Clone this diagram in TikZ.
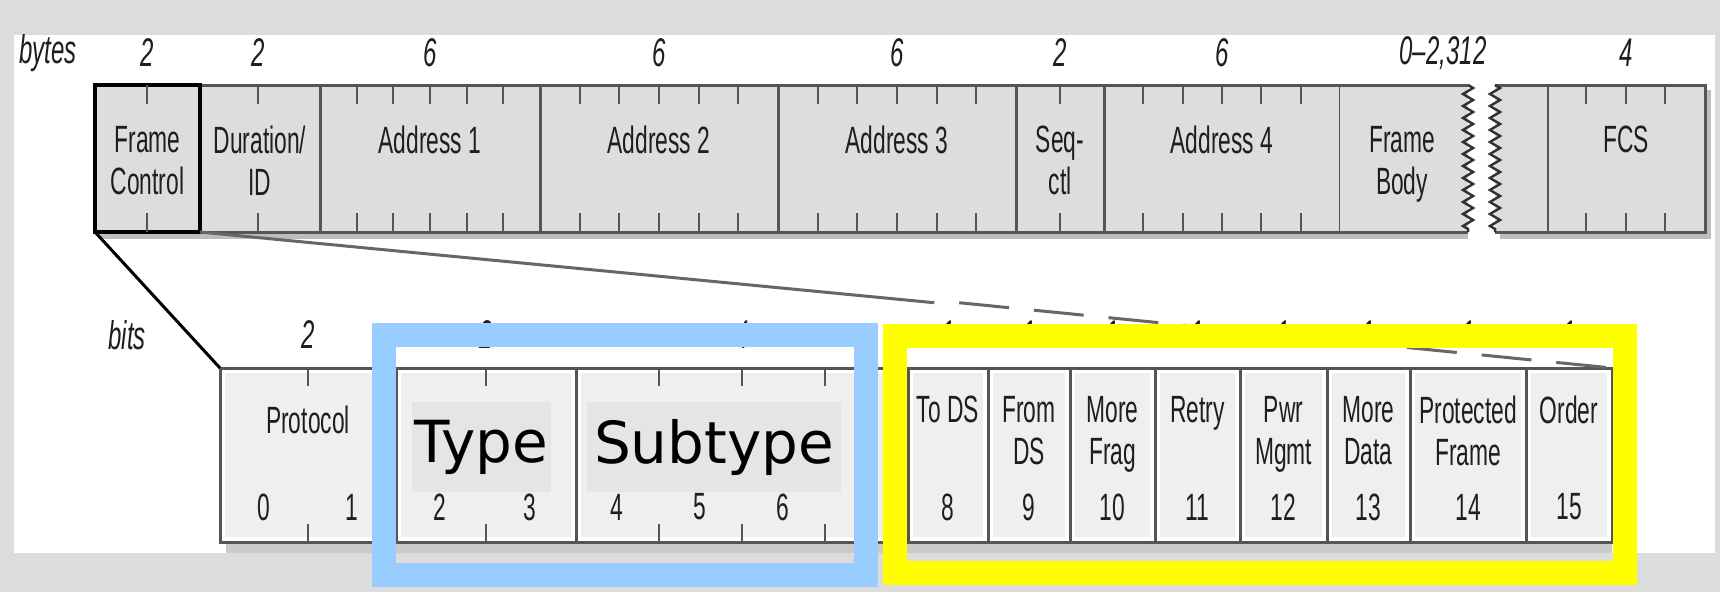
\documentclass[tikz,border=0pt]{standalone}
\usepackage{fontspec}
\usetikzlibrary{calc,decorations.pathmorphing}
\newfontfamily\condfont[FakeStretch=0.6]{Liberation Sans}
\newfontfamily\bigfont{DejaVu Sans}
\definecolor{bggray}{HTML}{DCDCDC}
\definecolor{edgegray}{HTML}{555555}
\definecolor{topgray}{HTML}{DDDDDD}
\definecolor{bitgray}{HTML}{EFEFEF}
\definecolor{boxgray}{HTML}{E5E5E5}
\definecolor{shadowgray}{HTML}{BDBDBD}
\definecolor{framebl}{HTML}{99CCFF}
\definecolor{frameyl}{HTML}{FFFF00}
\definecolor{txtgray}{HTML}{1E1E1E}

\tikzset{
  bytefield/.style={draw=edgegray, fill=topgray, line width=3pt, inner sep=0pt, outer sep=0pt, minimum height=147pt},
  bitfield/.style={draw=edgegray, fill=white, line width=3pt, inner sep=0pt, outer sep=0pt, minimum height=174pt,
    path picture={\fill[bitgray] ([shift={(5pt,-5pt)}]path picture bounding box.north west) rectangle ([shift={(-5pt,5pt)}]path picture bounding box.south east);}},
  fieldtext/.style={anchor=north, inner sep=0pt, align=center, text=txtgray, font=\condfont\fontsize{38}{42}\selectfont},
  counttext/.style={inner sep=0pt, text=txtgray, font=\condfont\itshape\fontsize{40}{44}\selectfont},
  bitnum/.style={inner sep=0pt, text=txtgray, font=\condfont\fontsize{38}{42}\selectfont},
  tickline/.style={edgegray, line width=2.5pt},
  bigtext/.style={fill=boxgray, inner sep=0pt, font=\bigfont\fontsize{58}{64}\selectfont},
  hilite/.style={line width=24pt}
}

\begin{document}
\begin{tikzpicture}[x=1pt,y=-1pt]
    \useasboundingbox (0,0) rectangle (1720,592);
    \fill[bggray] (0,0) rectangle (1720,592);
    \fill[white] (14,35) rectangle (1715,553);

    % byte row
    \fill[shadowgray] (100,232) rectangle (1468,239);
    \fill[shadowgray] (1500,232) rectangle (1711,239);
    \fill[shadowgray] (1705,90) rectangle (1711,239);

    \node[bytefield, minimum width=120pt] (dur) at (260,158.5) {};
    \node[bytefield, minimum width=220pt] (addra) at (430,158.5) {};
    \node[bytefield, minimum width=238pt] (addrb) at (659,158.5) {};
    \node[bytefield, minimum width=238pt] (addrc) at (897,158.5) {};
    \node[bytefield, minimum width=88pt] (seq) at (1060,158.5) {};
    \node[bytefield, minimum width=236pt] (addrd) at (1222,158.5) {};
    \node[bytefield, minimum width=158pt] (fcs) at (1626,158.5) {};
    \fill[topgray] (1340,85) rectangle (1468,232);
    \fill[topgray] (1495,85) rectangle (1547,232);
    \draw[edgegray, line width=3pt] (1340,85) -- (1468,85) (1340,232) -- (1468,232);
    \draw[edgegray, line width=3pt] (1495,85) -- (1547,85) (1495,232) -- (1547,232);
    \draw[black!80, line width=2.5pt, decorate, decoration={zigzag, segment length=12pt, amplitude=5pt}] (1468,85) -- (1468,232);
    \draw[black!80, line width=2.5pt, decorate, decoration={zigzag, segment length=12pt, amplitude=5pt}] (1495,85) -- (1495,232);
    \node[bytefield, draw=black, line width=4pt, minimum width=105pt] (fc) at (147.5,158.5) {};

    \foreach \tx in {147,258,357,393,430,467,503,580,619,659,699,738,818,857,897,937,976,1060,1143,1183,1222,1261,1301,1586,1626,1665}{
        \draw[tickline] (\tx,85) -- (\tx,104);
        \draw[tickline] (\tx,213) -- (\tx,232);
    }

    \node[fieldtext] (fctxt) at (147.5,126) {Frame\\Control};
    \node[fieldtext] (durtxt) at (260,126) {Duration/\\ID};
    \node[fieldtext] (addratxt) at (430,126) {Address 1};
    \node[fieldtext] (addrbtxt) at (659,126) {Address 2};
    \node[fieldtext] (addrctxt) at (897,126) {Address 3};
    \node[fieldtext] (seqtxt) at (1060,126) {Seq-\\ctl};
    \node[fieldtext] (addrdtxt) at (1222,126) {Address 4};
    \node[fieldtext] (bodytxt) at (1402,126) {Frame\\Body};
    \node[fieldtext] (fcstxt) at (1626,126) {FCS};

    \node[counttext] (bytes) at (48,53) {bytes};
    \node[counttext] (nfc) at (147,53) {2};
    \node[counttext] (ndur) at (258,53) {2};
    \node[counttext] (naddra) at (430,53) {6};
    \node[counttext] (naddrb) at (659,53) {6};
    \node[counttext] (naddrc) at (897,53) {6};
    \node[counttext] (nseq) at (1060,53) {2};
    \node[counttext] (naddrd) at (1222,53) {6};
    \node[counttext] (nbody) at (1443,53) {0–2,312};
    \node[counttext] (nfcs) at (1626,53) {4};

    % bit row
    \fill[shadowgray!80!white] (226,542) rectangle (1612,553);
    \node[bitfield, minimum width=176pt] (proto) at (308,455) {};
    \node[bitfield, minimum width=180pt] (type) at (486,455) {};
    \node[bitfield, minimum width=332pt] (subtype) at (742,455) {};
    \node[bitfield, minimum width=80pt] (tods) at (948,455) {};
    \node[bitfield, minimum width=82pt] (fromds) at (1029,455) {};
    \node[bitfield, minimum width=85pt] (morefrag) at (1112.5,455) {};
    \node[bitfield, minimum width=85pt] (retry) at (1197.5,455) {};
    \node[bitfield, minimum width=87pt] (pwrmgmt) at (1283.5,455) {};
    \node[bitfield, minimum width=83pt] (moredata) at (1368.5,455) {};
    \node[bitfield, minimum width=116pt] (protframe) at (1468,455) {};
    \node[bitfield, minimum width=86pt] (order) at (1569,455) {};

    \foreach \tx in {308,486,659,742,825}{
        \draw[tickline] (\tx,368) -- (\tx,386);
        \draw[tickline] (\tx,524) -- (\tx,542);
    }

    \node[fieldtext] (prototxt) at (308,406) {Protocol};
    \node[bigtext, minimum width=139pt, minimum height=90pt] (typetxt) at (481.5,447) {Type};
    \node[bigtext, minimum width=254pt, minimum height=90pt] (subtypetxt) at (714,447) {Subtype};
    \node[fieldtext] (todstxt) at (948,396) {To DS};
    \node[fieldtext] (fromdstxt) at (1029,396) {From\\DS};
    \node[fieldtext] (morefragtxt) at (1112.5,396) {More\\Frag};
    \node[fieldtext] (retrytxt) at (1197.5,396) {Retry};
    \node[fieldtext] (pwrmgmttxt) at (1283.5,396) {Pwr\\Mgmt};
    \node[fieldtext] (moredatatxt) at (1368.5,396) {More\\Data};
    \node[fieldtext] (protframetxt) at (1468,396) {Protected\\Frame};
    \node[fieldtext] (ordertxt) at (1569,396) {Order};

    \node[bitnum] (b0) at (264,507) {0};
    \node[bitnum] (b1) at (352,507) {1};
    \node[bitnum] (b2) at (440,507) {2};
    \node[bitnum] (b3) at (530,507) {3};
    \node[bitnum] (b4) at (617,507) {4};
    \node[bitnum] (b5) at (700,507) {5};
    \node[bitnum] (b6) at (783,507) {6};
    \node[bitnum] (b8) at (948,507) {8};
    \node[bitnum] (b9) at (1029,507) {9};
    \node[bitnum] (b10) at (1112.5,507) {10};
    \node[bitnum] (b11) at (1197.5,507) {11};
    \node[bitnum] (b12) at (1283.5,507) {12};
    \node[bitnum] (b13) at (1368.5,507) {13};
    \node[bitnum] (b14) at (1468,507) {14};
    \node[bitnum] (b15) at (1569,507) {15};

    \node[counttext] (bits) at (127,335) {bits};
    \node[counttext] (nproto) at (308,335) {2};
    \node[counttext] (ntype) at (486,335) {2};
    \node[counttext] (nsubtype) at (742,335) {4};
    \foreach \tx in {948,1029,1112.5,1197.5,1283.5,1368.5,1468,1569}{
        \node[counttext] at (\tx,335) {1};
    }

    % zoom-in lines
    \coordinate (brk) at ($(fc.south east)!0.52!(order.north east)$);
    \draw[black, line width=3pt] (fc.south west) -- (proto.north west);
    \draw[black!60, line width=3pt] (fc.south east) -- (brk);
    \draw[black!60, line width=3pt, dash pattern=on 50pt off 25pt] ([xshift=25pt]brk) -- (order.north east);

    % highlight frames
    \draw[framebl, hilite] (384,335) rectangle (866,575);
    \draw[frameyl, hilite] (895,336) rectangle (1625,573);
\end{tikzpicture}
\end{document}
